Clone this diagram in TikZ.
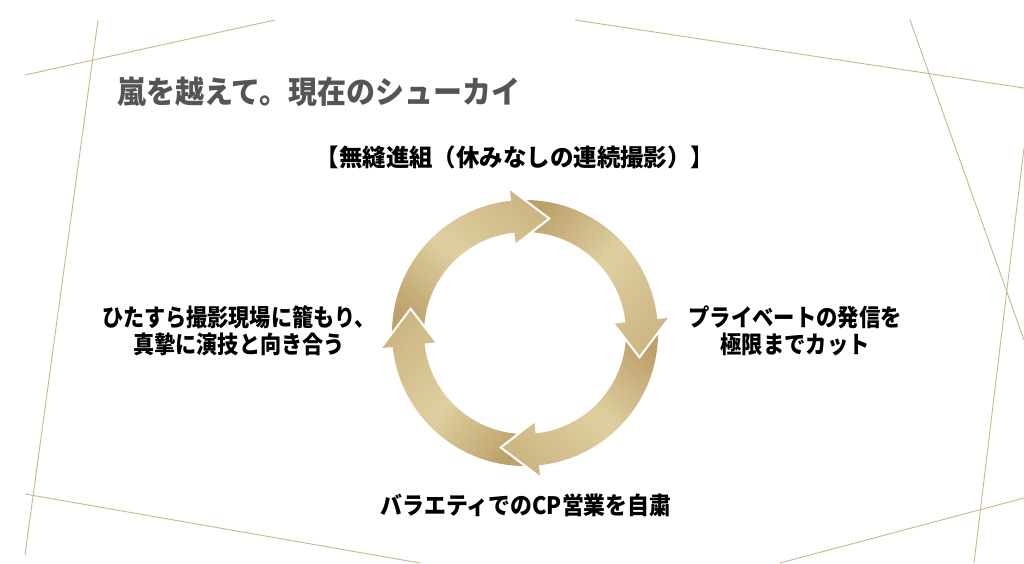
\documentclass[tikz,border=0pt]{standalone}
\usepackage{fontspec}
\newfontfamily\jpfont{Noto Sans CJK JP}
\usetikzlibrary{positioning}

\definecolor{linegold}{HTML}{C9B78E}
\definecolor{goldlight}{HTML}{DFCFA0}
\definecolor{goldmid}{HTML}{CDB683}
\definecolor{golddark}{HTML}{BCA06A}
\definecolor{titlegray}{HTML}{555555}
\pgfdeclarehorizontalshading{goldband}{100bp}{color(0bp)=(goldlight); color(22bp)=(goldmid); color(38bp)=(golddark); color(52bp)=(goldlight); color(66bp)=(goldmid); color(80bp)=(golddark); color(100bp)=(goldlight)}

\tikzset{
	frameline/.style={draw=linegold, line width=0.9pt},
	titletext/.style={font=\jpfont\bfseries\fontsize{31}{36}\selectfont, text=titlegray, inner sep=0pt, xscale=0.935},
	steptext/.style={font=\jpfont\bfseries\fontsize{24}{27}\selectfont, text=black, align=center, inner sep=0pt, xscale=0.88},
	headedge/.style={draw=white, line width=2pt, line join=miter},
}

\begin{document}
\begin{tikzpicture}[x=1pt,y=-1pt]
	\useasboundingbox (0,0) rectangle (1024,563);
	\fill[white] (0,0) rectangle (1024,563);

	% thin gold lines
	\draw[frameline] (25,75)	-- (275,20);
	\draw[frameline] (98,20)	-- (25,555);
	\draw[frameline] (575,20)	-- (1024,88);
	\draw[frameline] (910,20)	-- (1024,340);
	\draw[frameline] (1024,148)	-- (974,563);
	\draw[frameline] (1024,498)	-- (780,563);
	\draw[frameline] (25,494)	-- (420,563);

	\node[titletext, anchor=west] (title) at (117,92) {嵐を越えて。現在のシューカイ};

	\node[steptext, xscale=1.11] (top)	at (515,157)	{【無縫進組（休みなしの連続撮影）】};
	\node[steptext] (left)		at (239,331)	{ひたすら撮影現場に籠もり、\\真摯に演技と向き合う};
	\node[steptext, xscale=1.01] (right)	at (795,331)	{プライベートの発信を\\極限までカット};
	\node[steptext, xscale=1.035] (bottom)	at (526,505)	{バラエティでのCP営業を自粛};

	% cycle of four arrows
	\begin{scope}[shift={(525,333)}, yscale=-1]
		\foreach \t in {78,-12,-102,168} {
			\begin{scope}
				\clip ({\t+108}:133) arc[start angle=\t+108, end angle=\t+18, radius=133]
					-- ({\t+18}:101) arc[start angle=\t+18, end angle=\t+108, radius=101] -- cycle;
				\shade[shading=goldband, shading angle=\t-30] (-150,-150) rectangle (150,150);
			\end{scope}
		}
		\foreach \t in {78,-12,-102,168} {
			\begin{scope}
				\clip ({\t+18}:145) -- (\t:117) -- ({\t+18}:89) -- cycle;
				\shade[shading=goldband, shading angle=\t-30] (-150,-150) rectangle (150,150);
			\end{scope}
			\draw[headedge] ({\t+18}:145) -- (\t:117) -- ({\t+18}:89);
		}
	\end{scope}
\end{tikzpicture}
\end{document}
